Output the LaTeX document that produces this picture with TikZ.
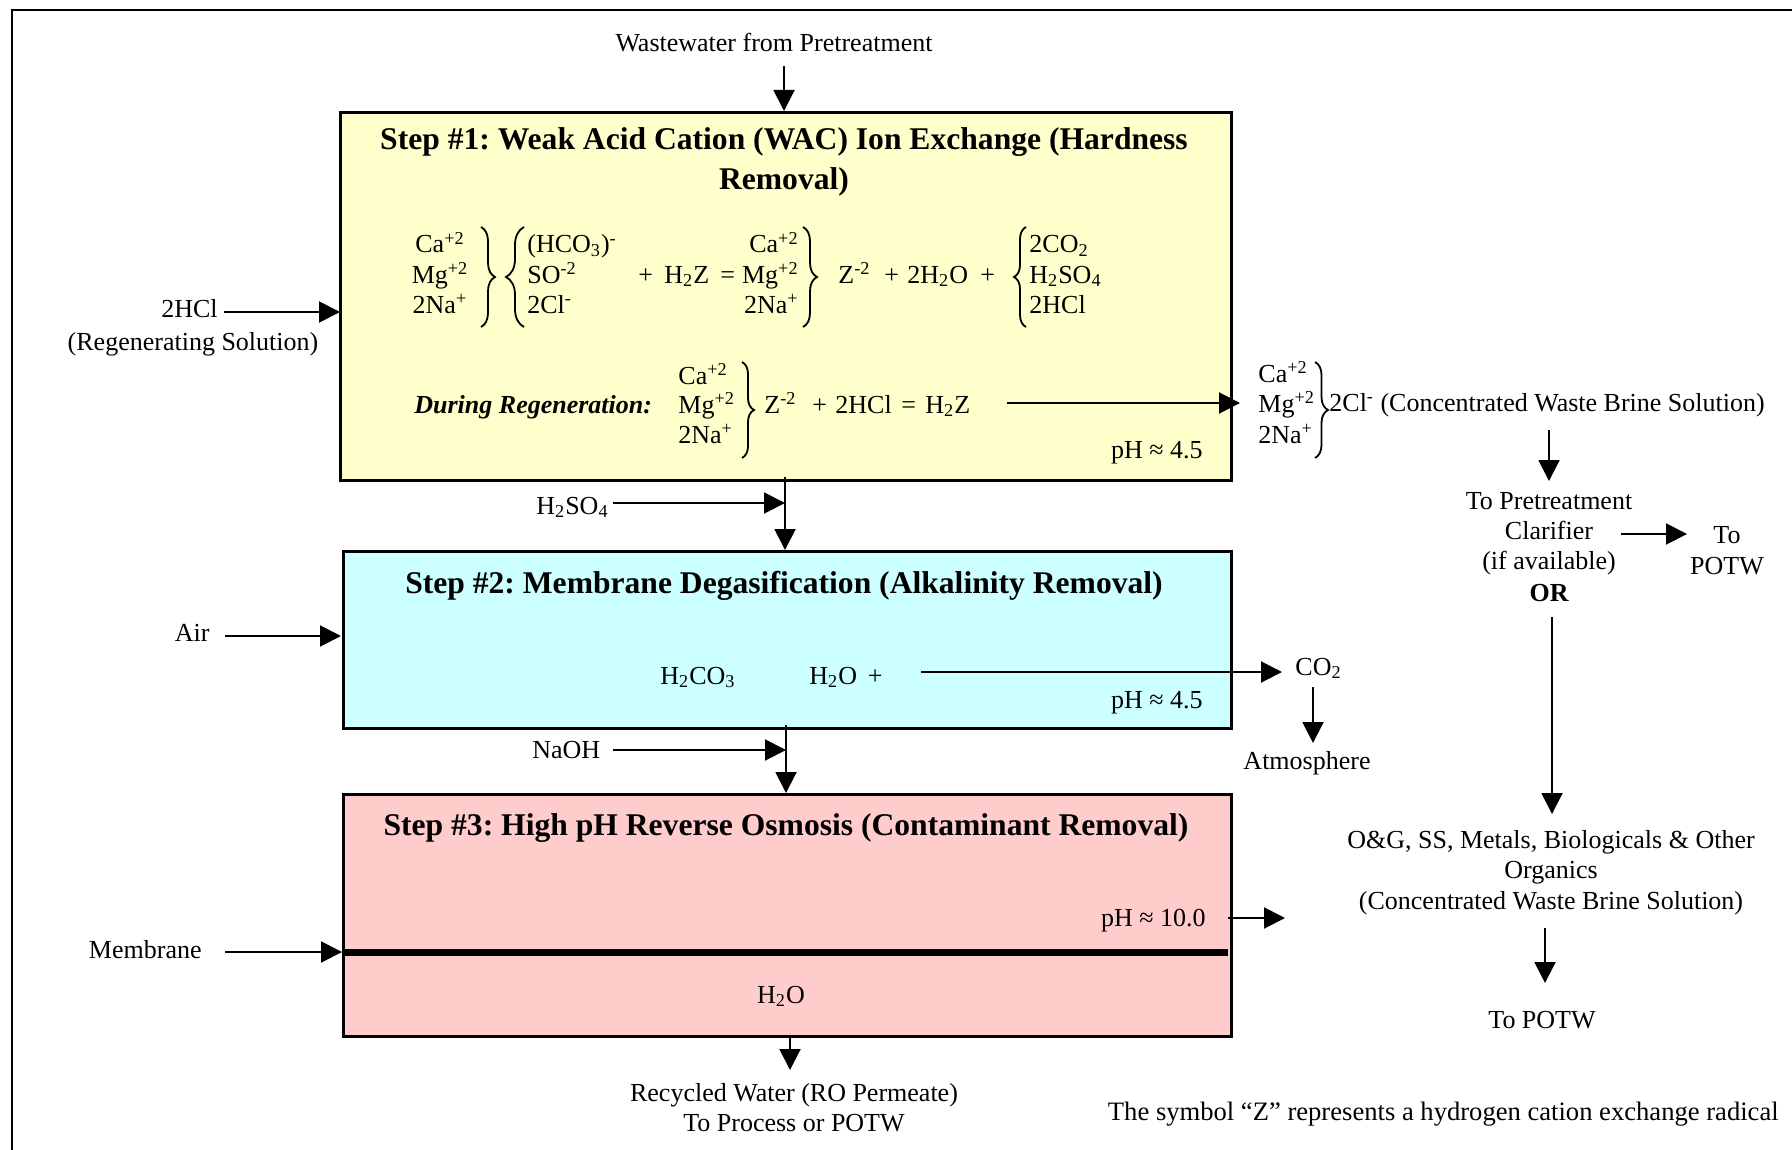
\documentclass[tikz,border=0pt]{standalone}
\usepackage{fontspec}
\setmainfont{Liberation Serif}
\usetikzlibrary{arrows.meta,decorations.pathreplacing}
\newcommand{\sbs}[1]{\textsubscript{#1}}
\newcommand{\sps}[1]{\textsuperscript{#1}}
\definecolor{yelbox}{RGB}{255,255,204}
\definecolor{cyanbox}{RGB}{204,255,255}
\definecolor{pinkbox}{RGB}{255,204,204}
\frenchspacing
\tikzset{
 tx/.style={font=\fontsize{13}{15}\selectfont, inner sep=0pt, anchor=base},
 tw/.style={tx, anchor=base west},
 te/.style={tx, anchor=base east},
 ttl/.style={font=\fontsize{15.8}{18}\selectfont\bfseries, inner sep=0pt, anchor=base},
 arr/.style={-{Triangle[length=10.5pt,width=10.5pt]}, line width=1pt},
 stepbox/.style={draw, line width=1.3pt, inner sep=0pt, anchor=north west},
 brc/.style={decorate, decoration={brace, amplitude=#1}, line width=0.9pt},
}
\begin{document}
\begin{tikzpicture}[x=0.5pt,y=-0.5pt]
\useasboundingbox (0,0) rectangle (1792,1150);
% outer frame
\coordinate (f0) at (12,1150);
\coordinate (f1) at (12,10);
\coordinate (f2) at (1792,10);
\draw[line width=1.3pt] (f0) -- (f1) -- (f2);

% boxes
\node[stepbox, fill=yelbox, minimum width=445.5pt, minimum height=184pt] (b1) at (339,111) {};
\node[stepbox, fill=cyanbox, minimum width=444pt, minimum height=88.5pt] (b2) at (342,550) {};
\node[stepbox, fill=pinkbox, minimum width=444pt, minimum height=121pt] (b3) at (342,793) {};

% membrane line
\coordinate (m1) at (342,952);
\coordinate (m2) at (1228,952);
\draw[line width=3.5pt] (m1) -- (m2);

% top input
\node[tx] (ww) at (774,52) {Wastewater from Pretreatment};
\coordinate (wwA) at (784,66);
\coordinate (wwB) at (784,111);
\draw[arr] (wwA) -- (wwB);

% titles
\node[ttl] (t1a) at (784,150) {Step \#1: Weak Acid Cation (WAC) Ion Exchange (Hardness};
\node[ttl] (t1b) at (784,190) {Removal)};
\node[ttl] (t2) at (784,593) {Step \#2: Membrane Degasification (Alkalinity Removal)};
\node[ttl] (t3) at (786,835) {Step \#3: High pH Reverse Osmosis (Contaminant Removal)};

% reaction 1
\node[tx] (r1a) at (440,253) {Ca\sps{+2}};
\node[tx] (r1b) at (440,283) {Mg\sps{+2}};
\node[tx] (r1c) at (440,313) {2Na\sps{+}};
\draw[brc=7pt] (481,227) -- (481,327);
\draw[brc=9pt] (524,327) -- (524,227);
\node[tw] (r2a) at (527,253) {(HCO\sbs{3})\sps{-}};
\node[tw] (r2b) at (527,283) {SO\sps{-2}};
\node[tw] (r2c) at (527,313) {2Cl\sps{-}};
\node[tw] (p1) at (638,283) {+};
\node[tw] (h2z) at (664,283) {H\sbs{2}Z};
\node[tw] (eq1) at (720,283) {=};
\node[te] (r3a) at (799,253) {Ca\sps{+2}};
\node[te] (r3b) at (799,283) {Mg\sps{+2}};
\node[te] (r3c) at (799,313) {2Na\sps{+}};
\draw[brc=7pt] (803,227) -- (803,327);
\node[tw] (z1) at (838,283) {Z\sps{-2}};
\node[tw] (p2) at (884,283) {+};
\node[tw] (w1) at (907,283) {2H\sbs{2}O};
\node[tw] (p3) at (980,283) {+};
\draw[brc=6pt] (1026,327) -- (1026,227);
\node[tw] (r4a) at (1029,253) {2CO\sbs{2}};
\node[tw] (r4b) at (1029,283) {H\sbs{2}SO\sbs{4}};
\node[tw] (r4c) at (1029,313) {2HCl};

% regeneration
\node[tw, font=\fontsize{13}{15}\selectfont\bfseries\itshape] (dr) at (414,413) {During Regeneration:};
\node[tw] (g1) at (678,384) {Ca\sps{+2}};
\node[tw] (g2) at (678,413) {Mg\sps{+2}};
\node[tw] (g3) at (678,443) {2Na\sps{+}};
\draw[brc=6pt] (742,362) -- (742,458);
\node[tw] (z2) at (764,413) {Z\sps{-2}};
\node[tw] (p4) at (812,413) {+};
\node[tw] (hcl) at (835,413) {2HCl};
\node[tw] (eq2) at (901,413) {=};
\node[tw] (h2z2) at (925,413) {H\sbs{2}Z};
\coordinate (rgA) at (1007,403);
\coordinate (rgB) at (1240,403);
\draw[arr] (rgA) -- (rgB);
\node[te] (ph1) at (1203,458) {pH ≈ 4.5};

% brine
\node[tw] (k1) at (1258,382) {Ca\sps{+2}};
\node[tw] (k2) at (1258,412) {Mg\sps{+2}};
\node[tw] (k3) at (1258,443) {2Na\sps{+}};
\draw[brc=6.5pt] (1315,362) -- (1315,458);
\node[tw] (brine) at (1329,411) {2Cl\sps{-} (Concentrated Waste Brine Solution)};
\coordinate (bdA) at (1549,430);
\coordinate (bdB) at (1549,481);
\draw[arr] (bdA) -- (bdB);
\node[tx] (c1) at (1549,509) {To Pretreatment};
\node[tx] (c2) at (1549,539) {Clarifier};
\node[tx] (c3) at (1549,569) {(if available)};
\node[tx, font=\fontsize{13}{15}\selectfont\bfseries] (or) at (1549,601) {OR};
\coordinate (clA) at (1621,534);
\coordinate (clB) at (1687,534);
\draw[arr] (clA) -- (clB);
\node[tx] (tp1) at (1727,543) {To};
\node[tx] (tp2) at (1727,574) {POTW};
\coordinate (orA) at (1552,617);
\coordinate (orB) at (1552,814);
\draw[arr] (orA) -- (orB);

% between boxes
\coordinate (v1a) at (785,477);
\coordinate (v1b) at (785,550);
\draw[arr] (v1a) -- (v1b);
\node[tw] (h2so4) at (536,514) {H\sbs{2}SO\sbs{4}};
\coordinate (saA) at (613,503);
\coordinate (saB) at (785,503);
\draw[arr] (saA) -- (saB);
\coordinate (v2a) at (786,725);
\coordinate (v2b) at (786,793);
\draw[arr] (v2a) -- (v2b);
\node[tw] (naoh) at (532,758) {NaOH};
\coordinate (naA) at (613,750);
\coordinate (naB) at (786,750);
\draw[arr] (naA) -- (naB);

% box 2 contents
\node[tw] (h2co3) at (660,684) {H\sbs{2}CO\sbs{3}};
\node[tw] (h2o1) at (809,684) {H\sbs{2}O\ \,+};
\coordinate (coA) at (921,672);
\coordinate (coB) at (1282,672);
\draw[arr] (coA) -- (coB);
\node[te] (ph2) at (1203,708) {pH ≈ 4.5};
\node[tw] (co2) at (1295,675) {CO\sbs{2}};
\coordinate (atA) at (1313,687);
\coordinate (atB) at (1313,743);
\draw[arr] (atA) -- (atB);
\node[tx] (atm) at (1307,769) {Atmosphere};

% box 3 contents
\node[te] (ph3) at (1206,926) {pH ≈ 10.0};
\coordinate (p10A) at (1228,918);
\coordinate (p10B) at (1285,918);
\draw[arr] (p10A) -- (p10B);
\node[tx] (h2o2) at (781,1003) {H\sbs{2}O};
\coordinate (rwA) at (790,1035);
\coordinate (rwB) at (790,1070);
\draw[arr] (rwA) -- (rwB);
\node[tx] (rw1) at (794,1101) {Recycled Water (RO Permeate)};
\node[tx] (rw2) at (794,1131) {To Process or POTW};

% contaminants
\node[tx] (og1) at (1551,848) {O\&G, SS, Metals, Biologicals \& Other};
\node[tx] (og2) at (1551,878) {Organics};
\node[tx] (og3) at (1551,909) {(Concentrated Waste Brine Solution)};
\coordinate (ogA) at (1545,928);
\coordinate (ogB) at (1545,983);
\draw[arr] (ogA) -- (ogB);
\node[tx] (potw) at (1542,1028) {To POTW};
\node[te, font=\fontsize{13.3}{15}\selectfont] (note) at (1779,1120) {The symbol “Z” represents a hydrogen cation exchange radical};

% left inputs
\node[te] (hcl2) at (218,317) {2HCl};
\node[tx] (regsol) at (193,350) {(Regenerating Solution)};
\coordinate (hA) at (224,312);
\coordinate (hB) at (340,312);
\draw[arr] (hA) -- (hB);
\node[te] (air) at (210,641) {Air};
\coordinate (aA) at (225,636);
\coordinate (aB) at (341,636);
\draw[arr] (aA) -- (aB);
\node[te] (memb) at (202,958) {Membrane};
\coordinate (mA) at (225,952);
\coordinate (mB) at (342,952);
\draw[arr] (mA) -- (mB);
\end{tikzpicture}
\end{document}
